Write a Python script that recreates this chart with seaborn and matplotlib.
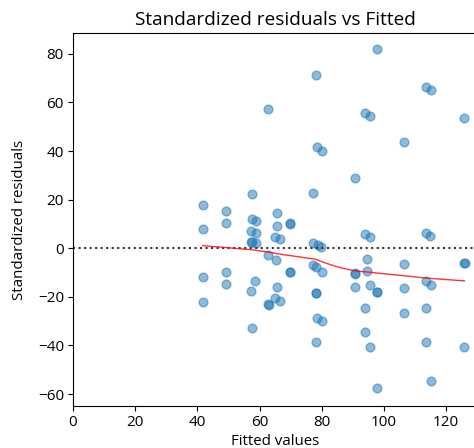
import matplotlib
matplotlib.use("Agg")
import matplotlib.pyplot as plt
import seaborn as sns
import pandas as pd

fitted = [41.7, 41.7, 41.7, 41.7, 49.2, 49.2, 49.2, 49.2,
          57.4, 57.4, 58.7, 57.2, 58.7, 57.2, 57.4, 58.7, 58.6, 57.1, 57.5,
          62.6, 62.6, 62.6, 62.9,
          65.5, 65.5, 64.9, 66.6, 65.2, 65.5, 64.9, 66.6,
          69.8, 69.9, 69.8, 69.9,
          77.2, 78.1, 78.5, 80.1, 77.1, 78.8, 79.6, 77.1, 78.0, 80.0, 78.1, 78.2, 78.5, 80.1, 78.1,
          90.7, 90.6, 90.7, 90.6,
          93.9, 95.5, 93.9, 95.5, 94.4, 94.4, 95.5, 93.9, 93.9, 95.5,
          97.7, 97.8, 97.8, 97.7,
          106.4, 106.4, 106.4, 106.4,
          113.5, 115.1, 113.5, 114.8, 113.5, 115.0, 113.5, 113.5, 115.1,
          125.7, 125.8, 125.9, 125.7]
resid = [18.0, 8.0, -11.8, -22.0, 15.3, 10.3, -9.7, -14.7,
         22.2, 12.1, 11.4, 7.2, 6.4, 2.7, 2.4, 2.0, -13.5, -17.6, -32.9,
         57.2, -2.8, -23.1, -23.4,
         14.4, 9.3, 4.5, 3.7, -5.0, -15.8, -20.3, -21.6,
         10.3, 10.1, -9.6, -9.8,
         22.6, 71.2, 41.6, 39.9, 2.3, 1.2, 0.6, -6.9, -7.8, -9.9, -18.5, -18.3, -28.8, -30.0, -38.7,
         28.8, -10.3, -10.6, -15.8,
         55.6, 54.3, 5.9, 4.8, -4.5, -9.4, -15.1, -24.7, -34.6, -40.7,
         81.9, -17.9, -18.1, -57.6,
         43.6, -6.6, -16.5, -26.7,
         66.3, 65.0, 6.2, 5.2, -13.3, -15.1, -24.7, -38.7, -54.7,
         53.5, -5.9, -6.1, -40.7]

lowess_x = [41.7, 49.2, 57.5, 62.6, 65.5, 69.8, 78.0, 81.5, 86.0, 90.6, 95.0, 98.7, 106.4, 114.0, 125.8]
lowess_y = [1.1, 0.3, -0.6, -1.5, -2.2, -3.0, -4.5, -6.2, -8.0, -9.3, -9.8, -10.3, -11.3, -12.3, -13.4]

title = "Standardized residuals vs Fitted"
xlabel = "Fitted values"
ylabel = "Standardized residuals"

plt.rcParams['font.family'] = ['Open Sans', 'DejaVu Sans']

df = pd.DataFrame({"fitted": fitted, "resid": resid})
lw_df = pd.DataFrame({"x": lowess_x, "y": lowess_y})

fig = plt.figure(figsize=(4.74, 4.48), dpi=100)
ax = fig.add_axes([73/474, 42/448, (477-73)/474, (406-33)/448])

sns.scatterplot(data=df, x="fitted", y="resid", ax=ax, color="C0", alpha=0.5,
                s=40, edgecolor="C0", linewidth=1)
ax.axhline(0, ls=":", c=".2", lw=1.5)
sns.lineplot(data=lw_df, x="x", y="y", ax=ax, color="red", lw=1, alpha=0.8)

ax.set_xlim(0, 129.9)
ax.set_ylim(-64.9, 88.6)
ax.set_xticks([0, 20, 40, 60, 80, 100, 120])
ax.set_yticks([-60, -40, -20, 0, 20, 40, 60, 80])
ax.tick_params(labelsize=11, pad=3)
ax.set_title(title, fontsize=13.7, pad=6)
ax.set_xlabel(xlabel, fontsize=10.8, labelpad=3)
ax.set_ylabel(ylabel, fontsize=10.8, labelpad=8)

fig.savefig("out.png", dpi=100)
